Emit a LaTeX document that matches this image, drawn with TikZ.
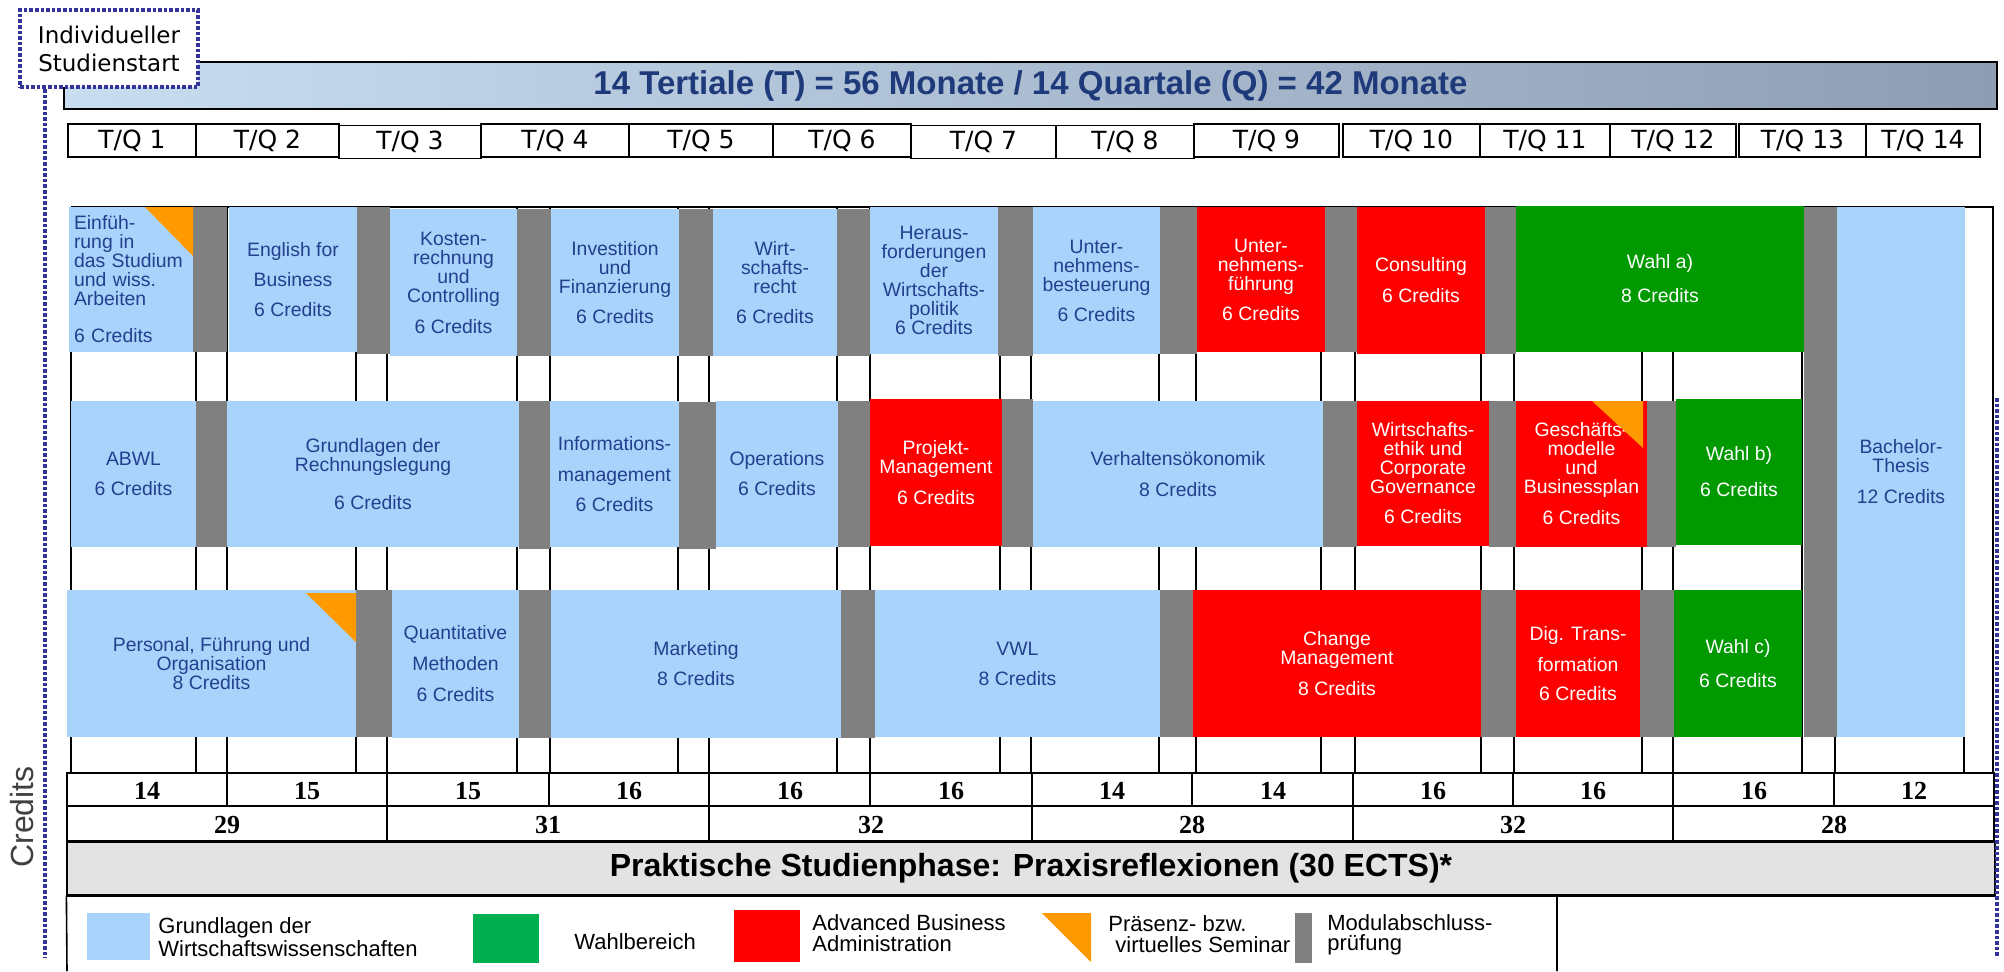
\documentclass[tikz,border=0pt]{standalone}
\usepackage{fontspec}
\setmainfont{Liberation Sans}
\newfontfamily\widesans{DejaVu Sans}
\newfontfamily\serifnum{Liberation Serif}

\definecolor{lblue}{HTML}{A9D3FB}
\definecolor{advred}{HTML}{FF0000}
\definecolor{wahlgreen}{HTML}{009900}
\definecolor{leggreen}{HTML}{00B050}
\definecolor{examgray}{HTML}{808080}
\definecolor{seminarorange}{HTML}{FF9900}
\definecolor{txtblue}{HTML}{23408E}
\definecolor{startblue}{HTML}{333399}
\definecolor{headlight}{HTML}{C9DDF1}
\definecolor{headdark}{HTML}{8E9DB2}
\definecolor{headtext}{HTML}{1F3A7A}
\definecolor{praxisgray}{HTML}{E3E3E3}

\newcommand\modfont{\fontsize{9.7}{9.5}\selectfont}
\newcommand\legfont{\fontsize{11}{10.2}\selectfont}
\newcommand\barfont{\fontsize{16}{18}\selectfont\bfseries}
\newcommand\tqfont{\widesans\fontsize{12.5}{14}\selectfont}
\newcommand\startfont{\widesans\fontsize{11.5}{14}\selectfont}
\newcommand\credfont{\serifnum\fontsize{13}{15}\selectfont\bfseries}

\tikzset{
  boxsize/.style 2 args={minimum width=#1pt, minimum height=#2pt},
  module/.style={inner sep=0pt, outer sep=0pt, align=center, font=\modfont},
  grund/.style={module, fill=lblue, text=txtblue},
  advanced/.style={module, fill=advred, text=white},
  wahl/.style={module, fill=wahlgreen, text=white},
  exam/.style={fill=examgray},
  seminar/.style={fill=seminarorange},
  tqcell/.style={draw, line width=0.75pt, inner sep=0pt, minimum height=16.5pt, font=\tqfont},
  credit/.style={font=\credfont},
  grid/.style={line width=1.1pt},
  startline/.style={draw=startblue, line width=2.2pt, dash pattern=on 1.8pt off 1pt},
  legendtext/.style={anchor=west, align=left, font=\legfont, inner sep=0pt},
}

\begin{document}
\begin{tikzpicture}[x=0.5pt, y=-0.5pt]
\useasboundingbox (0,0) rectangle (2004,971);

% header bar
\node[draw, line width=1pt, boxsize={966.5}{23.5}, inner sep=0pt, left color=headlight, right color=headdark, text=headtext, font=\fontsize{16.5}{18}\selectfont\bfseries] (head) at (1030.5,85.5) {14 Tertiale (T) = 56 Monate / 14 Quartale (Q) = 42 Monate};
\node[startline, fill=white, boxsize={89}{38.5}, inner sep=0pt, align=center, font=\startfont] (start) at (109,48.5) {Individueller\\Studienstart};

% tertiale / quartale
\node[tqcell, minimum width=64pt] (tq1) at (132,140.5) {T/Q 1};
\node[tqcell, minimum width=71.5pt] (tq2) at (267.5,140.5) {T/Q 2};
\node[tqcell, minimum width=71pt] (tq3) at (410,142) {T/Q 3};
\node[tqcell, minimum width=74pt] (tq4) at (555,140.5) {T/Q 4};
\node[tqcell, minimum width=72pt] (tq5) at (701,140.5) {T/Q 5};
\node[tqcell, minimum width=69pt] (tq6) at (842,140.5) {T/Q 6};
\node[tqcell, minimum width=72.5pt] (tq7) at (983.5,142) {T/Q 7};
\node[tqcell, minimum width=69pt] (tq8) at (1125,142) {T/Q 8};
\node[tqcell, minimum width=72.5pt] (tq9) at (1266.5,140.5) {T/Q 9};
\node[tqcell, minimum width=68.5pt] (tq10) at (1411.5,140.5) {T/Q 10};
\node[tqcell, minimum width=65pt] (tq11) at (1545,140.5) {T/Q 11};
\node[tqcell, minimum width=63pt] (tq12) at (1673,140.5) {T/Q 12};
\node[tqcell, minimum width=63.5pt] (tq13) at (1802.5,140.5) {T/Q 13};
\node[tqcell, minimum width=57pt] (tq14) at (1923,140.5) {T/Q 14};

% grid behind the modules
\draw[grid] (71,207) -- (1993,207) -- (1993,773)
  (71,207) -- (71,773) (196,207) -- (196,773) (227,207) -- (227,773)
  (356,207) -- (356,773) (387,207) -- (387,773) (517,207) -- (517,773)
  (550,207) -- (550,773) (678,207) -- (678,773) (709,207) -- (709,773)
  (837,207) -- (837,773) (870,207) -- (870,773) (1000,207) -- (1000,773)
  (1031,207) -- (1031,773) (1159,207) -- (1159,773) (1196,207) -- (1196,773)
  (1321,207) -- (1321,773) (1355,207) -- (1355,773) (1481,207) -- (1481,773)
  (1514,207) -- (1514,773) (1642,207) -- (1642,773) (1673,207) -- (1673,773)
  (1802,207) -- (1802,773) (1835,207) -- (1835,773) (1964,207) -- (1964,773);

% module exams
\fill[exam] (193,207) rectangle (227,352);
\fill[exam] (357,207) rectangle (390,354);
\fill[exam] (517,209) rectangle (551,356);
\fill[exam] (679,209) rectangle (713,356);
\fill[exam] (837,209) rectangle (870,356);
\fill[exam] (998,207) rectangle (1033,356);
\fill[exam] (1160,207) rectangle (1197,354);
\fill[exam] (1325,207) rectangle (1357,352);
\fill[exam] (1485,207) rectangle (1516,354);
\fill[exam] (1804,207) rectangle (1837,737);
\fill[exam] (196,401) rectangle (227,547);
\fill[exam] (519,401) rectangle (550,549);
\fill[exam] (679,402) rectangle (716,549);
\fill[exam] (838,401) rectangle (870,547);
\fill[exam] (1002,399) rectangle (1033,547);
\fill[exam] (1323,401) rectangle (1357,547);
\fill[exam] (1489,401) rectangle (1516,547);
\fill[exam] (1647,401) rectangle (1676,547);
\fill[exam] (356,590) rectangle (392,737);
\fill[exam] (519,590) rectangle (551,738);
\fill[exam] (841,590) rectangle (875,738);
\fill[exam] (1160,590) rectangle (1193,737);
\fill[exam] (1481,590) rectangle (1516,737);
\fill[exam] (1640,590) rectangle (1674,737);

% first row
\node[grund, boxsize={62}{72.5}, align=left, text width=57pt] (einf) at (131,279.5) {Einfüh-\\rung in\\das Studium\\und wiss.\\Arbeiten\\[9pt]6 Credits};
\node[grund, boxsize={64}{72.5}] (engl) at (293,279.5) {English for\\[5.5pt]Business\\[5.5pt]6 Credits};
\node[grund, boxsize={63.5}{73.5}] (kost) at (453.5,282.5) {Kosten-\\rechnung\\und\\Controlling\\[6pt]6 Credits};
\node[grund, boxsize={64}{73.5}] (inv) at (615,282.5) {Investition\\und\\Finanzierung\\[5.5pt]6 Credits};
\node[grund, boxsize={62}{73.5}] (wirt) at (775,282.5) {Wirt-\\schafts-\\recht\\[5.5pt]6 Credits};
\node[grund, boxsize={64}{73.5}] (hera) at (934,280.5) {Heraus-\\forderungen\\der\\Wirtschafts-\\politik\\6 Credits};
\node[grund, boxsize={63.5}{73.5}] (steu) at (1096.5,280.5) {Unter-\\nehmens-\\besteuerung\\[5.5pt]6 Credits};
\node[advanced, boxsize={64}{72.5}] (ufue) at (1261,279.5) {Unter-\\nehmens-\\führung\\[5.5pt]6 Credits};
\node[advanced, boxsize={64}{73.5}] (cons) at (1421,280.5) {Consulting\\[6pt]6 Credits};
\node[wahl, boxsize={144}{73}] (wahla) at (1660,279) {Wahl a)\\[7.5pt]8 Credits};
\node[grund, boxsize={64}{265}] (bach) at (1901,472) {Bachelor-\\Thesis\\[6pt]12 Credits};

% second row
\node[grund, boxsize={62.5}{73}] (abwl) at (133.5,474) {ABWL\\[5.5pt]6 Credits};
\node[grund, boxsize={146}{73}] (rech) at (373,474) {Grundlagen der\\Rechnungslegung\\[9.5pt]6 Credits};
\node[grund, boxsize={64.5}{73}] (info) at (614.5,474) {Informations-\\[6pt]management\\[5.5pt]6 Credits};
\node[grund, boxsize={61}{73}] (oper) at (777,474) {Operations\\[5.5pt]6 Credits};
\node[advanced, boxsize={66}{73.5}] (proj) at (936,472.5) {Projekt-\\Management\\[6pt]6 Credits};
\node[grund, boxsize={145}{73}] (verh) at (1178,474) {Verhaltensökonomik\\[6pt]8 Credits};
\node[advanced, boxsize={66}{72.5}] (ethik) at (1423,473.5) {Wirtschafts-\\ethik und\\Corporate\\Governance\\[5.5pt]6 Credits};
\node[advanced, boxsize={65.5}{73}] (gesch) at (1581.5,474) {Geschäfts-\\modelle\\und\\Businessplan\\[6pt]6 Credits};
\node[wahl, boxsize={63}{73}] (wahlb) at (1739,472) {Wahl b)\\[8.5pt]6 Credits};

% third row
\node[grund, boxsize={144.5}{73.5}] (pers) at (211.5,663.5) {Personal, Führung und\\Organisation\\8 Credits};
\node[grund, boxsize={63.5}{74}] (quant) at (455.5,664) {Quantitative\\[6pt]Methoden\\[6pt]6 Credits};
\node[grund, boxsize={145}{74}] (mark) at (696,664) {Marketing\\[5.5pt]8 Credits};
\node[grund, boxsize={142.5}{73.5}] (vwl) at (1017.5,663.5) {VWL\\[5.5pt]8 Credits};
\node[advanced, boxsize={144}{73.5}] (change) at (1337,663.5) {Change\\Management\\[6pt]8 Credits};
\node[advanced, boxsize={62}{73.5}] (digi) at (1578,663.5) {Dig. Trans-\\[6pt]formation\\[5pt]6 Credits};
\node[wahl, boxsize={64}{73.5}] (wahlc) at (1738,663.5) {Wahl c)\\[7.5pt]6 Credits};

% seminar corners
\fill[seminar] (145,207) -- (einf.north east) -- (193,256) -- cycle;
\fill[seminar] (1592,401) -- (1643,401) -- (1643,448) -- cycle;
\fill[seminar] (306,593) -- (356,593) -- (356,642) -- cycle;

% credits per tertial
\draw[line width=1.2pt] (67,773) rectangle (1994,841);
\draw[line width=0.8pt] (67,806) -- (1994,806)
  (227,773) -- (227,806) (549,773) -- (549,806) (870,773) -- (870,806)
  (1192,773) -- (1192,806) (1513,773) -- (1513,806) (1834,773) -- (1834,806);
\draw[line width=1.3pt] (387,773) -- (387,841) (709,773) -- (709,841)
  (1032,773) -- (1032,841) (1353,773) -- (1353,841) (1673,773) -- (1673,841);
\node[credit] (c1) at (147,791) {14};
\node[credit] (c2) at (307,791) {15};
\node[credit] (c3) at (468,791) {15};
\node[credit] (c4) at (629,791) {16};
\node[credit] (c5) at (790,791) {16};
\node[credit] (c6) at (951,791) {16};
\node[credit] (c7) at (1112,791) {14};
\node[credit] (c8) at (1273,791) {14};
\node[credit] (c9) at (1433,791) {16};
\node[credit] (c10) at (1593,791) {16};
\node[credit] (c11) at (1754,791) {16};
\node[credit] (c12) at (1914,791) {12};
\node[credit] (s1) at (227,825) {29};
\node[credit] (s2) at (548,825) {31};
\node[credit] (s3) at (871,825) {32};
\node[credit] (s4) at (1192,825) {28};
\node[credit] (s5) at (1513,825) {32};
\node[credit] (s6) at (1834,825) {28};
\node[rotate=90, text=black!75, font=\fontsize{16}{18}\selectfont] (credlbl) at (22,817) {Credits};

% practical phase
\node[boxsize={964}{26.5}, inner sep=0pt, fill=praxisgray, draw, line width=0.6pt, font=\barfont] (praxis) at (1031,868.5) {Praktische Studienphase: Praxisreflexionen (30 ECTS)*};
\draw[line width=1.4pt] (praxis.north west) -- (praxis.north east);
\draw[line width=1.8pt] (praxis.south west) -- (praxis.south east);

% legend
\draw[line width=0.8pt] (praxis.south west) -- (67,971) (1557,895) -- (1557,971);
\fill[lblue] (87,913) rectangle (150,960);
\node[legendtext] (lgrund) at (158,937) {Grundlagen der\\Wirtschaftswissenschaften};
\fill[leggreen] (473,914) rectangle (539,963);
\node[legendtext] (lwahl) at (574,942) {Wahlbereich};
\fill[advred] (734,910) rectangle (800,962);
\node[legendtext] (ladv) at (812,933) {Advanced Business\\Administration};
\fill[seminar] (1042,913) -- (1091,913) -- (1091,962) -- cycle;
\node[legendtext] (lsem) at (1108,934) {Präsenz- bzw.\\\hspace{3.5pt}virtuelles Seminar};
\fill[exam] (1295,913) rectangle (1312,963);
\node[legendtext] (lexam) at (1327,935) {Modulabschluss-\\prüfung};

% individual start
\coordinate (leftend) at (45,958);
\coordinate (righttop) at (1997,398);
\coordinate (rightend) at (1997,958);
\draw[startline] (start.south -| leftend) -- (leftend);
\draw[startline] (righttop) -- (rightend);
\end{tikzpicture}
\end{document}
